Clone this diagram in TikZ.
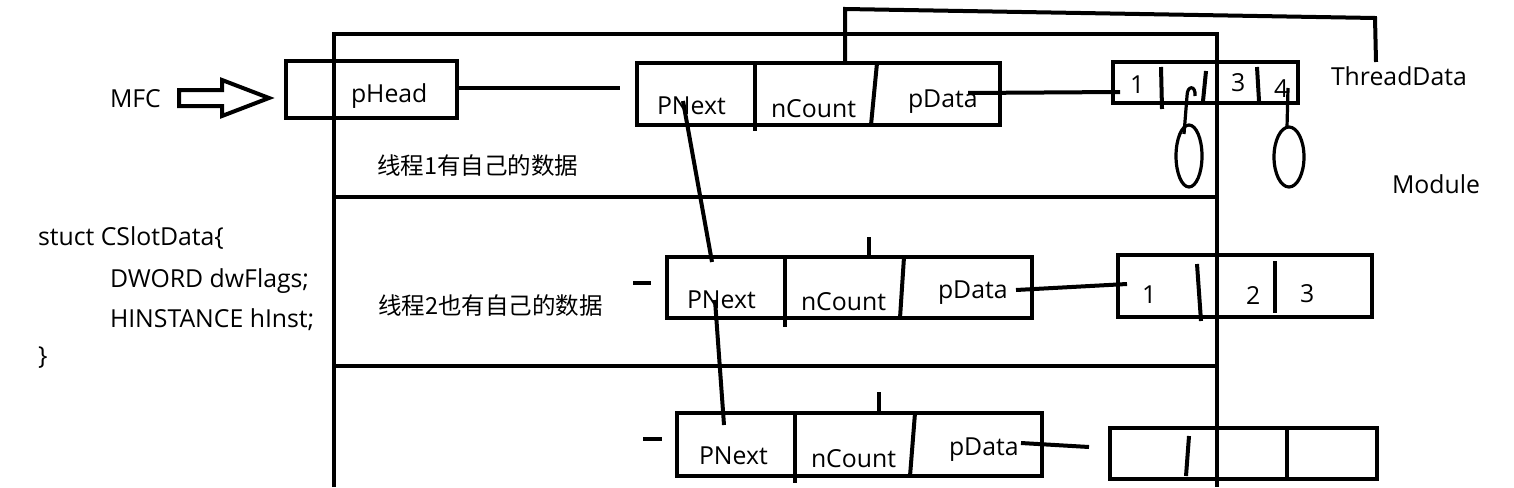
\documentclass[tikz,border=0pt]{standalone}
\usepackage{fontspec}
\setmainfont{Open Sans}
\newfontfamily\cjk{Noto Sans CJK SC}
\begin{document}
\begin{tikzpicture}[x=1pt,y=-1pt,line width=4pt,
  lbl/.style={anchor=base west,inner sep=0pt,font=\fontsize{24.8}{28}\selectfont},
  cjklbl/.style={anchor=base west,inner sep=0pt,font=\cjk\fontsize{23.5}{28}\selectfont},
  thin/.style={line width=3.2pt}]
\useasboundingbox (0,0) rectangle (1514,487);
% named points
\coordinate (phR) at (457,88);
\coordinate (phE) at (620,88);
\coordinate (pd1S) at (968,93);
\coordinate (pd1E) at (1120,92);
\coordinate (pd2S) at (1016,290);
\coordinate (pd2E) at (1127,284);
\coordinate (pd3S) at (1021,443);
\coordinate (pd3E) at (1089,447);
\coordinate (pn1S) at (683,101);
\coordinate (pn1E) at (712,262);
\coordinate (pn2S) at (715,300);
\coordinate (pn2E) at (724,425);
\coordinate (tdA) at (845,63);
\coordinate (tdB) at (845,9);
\coordinate (tdC) at (1375,18);
\coordinate (tdD) at (1376,62);
% Module frame
\draw (334,487) -- (334,34) -- (1217,34) -- (1217,487);
\draw (334,197) -- (1217,197);
\draw (334,366) -- (1217,366);
% MFC arrow
\node[lbl] (mfc) at (108,107) {MFC};
\draw (179,90) -- (222,90) -- (222,80) -- (269,98) -- (222,116) -- (222,106) -- (179,106) -- cycle;
% pHead
\draw (286,61) rectangle (457,118);
\node[lbl] (phead) at (349,102) {pHead};
\draw (phR) -- (phE);
% Thread 1 node
\draw (637,63) rectangle (1000,125);
\draw (755,63) -- (755,131);
\draw (877,63) -- (871,125);
\draw (tdA) -- (tdB) -- (tdC) -- (tdD);
\node[lbl] (pnext1) at (655,114) {PNext};
\node[lbl] (ncount1) at (769,117) {nCount};
\node[lbl] (pdata1) at (906,107) {pData};
\draw (pd1S) -- (pd1E);
% data box 1
\draw (1113,62) rectangle (1298,103);
\draw (1161,67) -- (1162,109);
\draw (1206,71) -- (1203,101);
\draw (1257,67) -- (1259,101);
\node[lbl] (d11) at (1128,93) {1};
\node[lbl] (d13) at (1229,92) {3};
\node[lbl] (d14) at (1272,97) {4};
\draw[thin] (1189,156) ellipse [x radius=13, y radius=31];
\draw[thin] (1289,157) ellipse [x radius=15, y radius=30];
\draw[thin] (1184,134) -- (1187,96) .. controls (1187,85) and (1196,85) .. (1195,96);
\draw[thin] (1287,127) -- (1288,88);
\node[lbl] (td) at (1329,85) {ThreadData};
\node[cjklbl] (t1) at (375,174) {线程1有自己的数据};
\node[lbl] (module) at (1390,193) {Module};
% struct
\node[lbl] (s1) at (36,245) {stuct CSlotData\{};
\node[lbl] (s2) at (108,287) {DWORD dwFlags;};
\node[lbl] (s3) at (108,327) {HINSTANCE hInst;};
\node[lbl] (s4) at (36,364) {\}};
% Thread 2 node
\draw (667,257) rectangle (1032,318);
\draw (785,257) -- (785,327);
\draw (904,257) -- (900,318);
\draw (869,237) -- (869,257);
\draw (633,283) -- (651,283);
\node[lbl] (pnext2) at (685,308) {PNext};
\node[lbl] (ncount2) at (799,310) {nCount};
\node[lbl] (pdata2) at (936,298) {pData};
\draw (pd2S) -- (pd2E);
\draw (1118,255) rectangle (1372,317);
\draw (1197,264) -- (1201,321);
\draw (1275,261) -- (1275,313);
\node[lbl] (d21) at (1140,303) {1};
\node[lbl] (d22) at (1244,304) {2};
\node[lbl] (d23) at (1298,302) {3};
\node[cjklbl] (t2) at (376,314) {线程2也有自己的数据};
% Thread 3 node
\draw (677,413) rectangle (1042,476);
\draw (795,413) -- (795,483);
\draw (915,413) -- (910,476);
\draw (879,392) -- (879,413);
\draw (643,439) -- (662,439);
\node[lbl] (pnext3) at (697,464) {PNext};
\node[lbl] (ncount3) at (809,467) {nCount};
\node[lbl] (pdata3) at (947,455) {pData};
\draw (pd3S) -- (pd3E);
\draw (1110,428) rectangle (1377,479);
\draw (1189,436) -- (1186,476);
\draw (1287,428) -- (1287,479);
% PNext chain
\draw (pn1S) -- (pn1E);
\draw (pn2S) -- (pn2E);
\end{tikzpicture}
\end{document}
